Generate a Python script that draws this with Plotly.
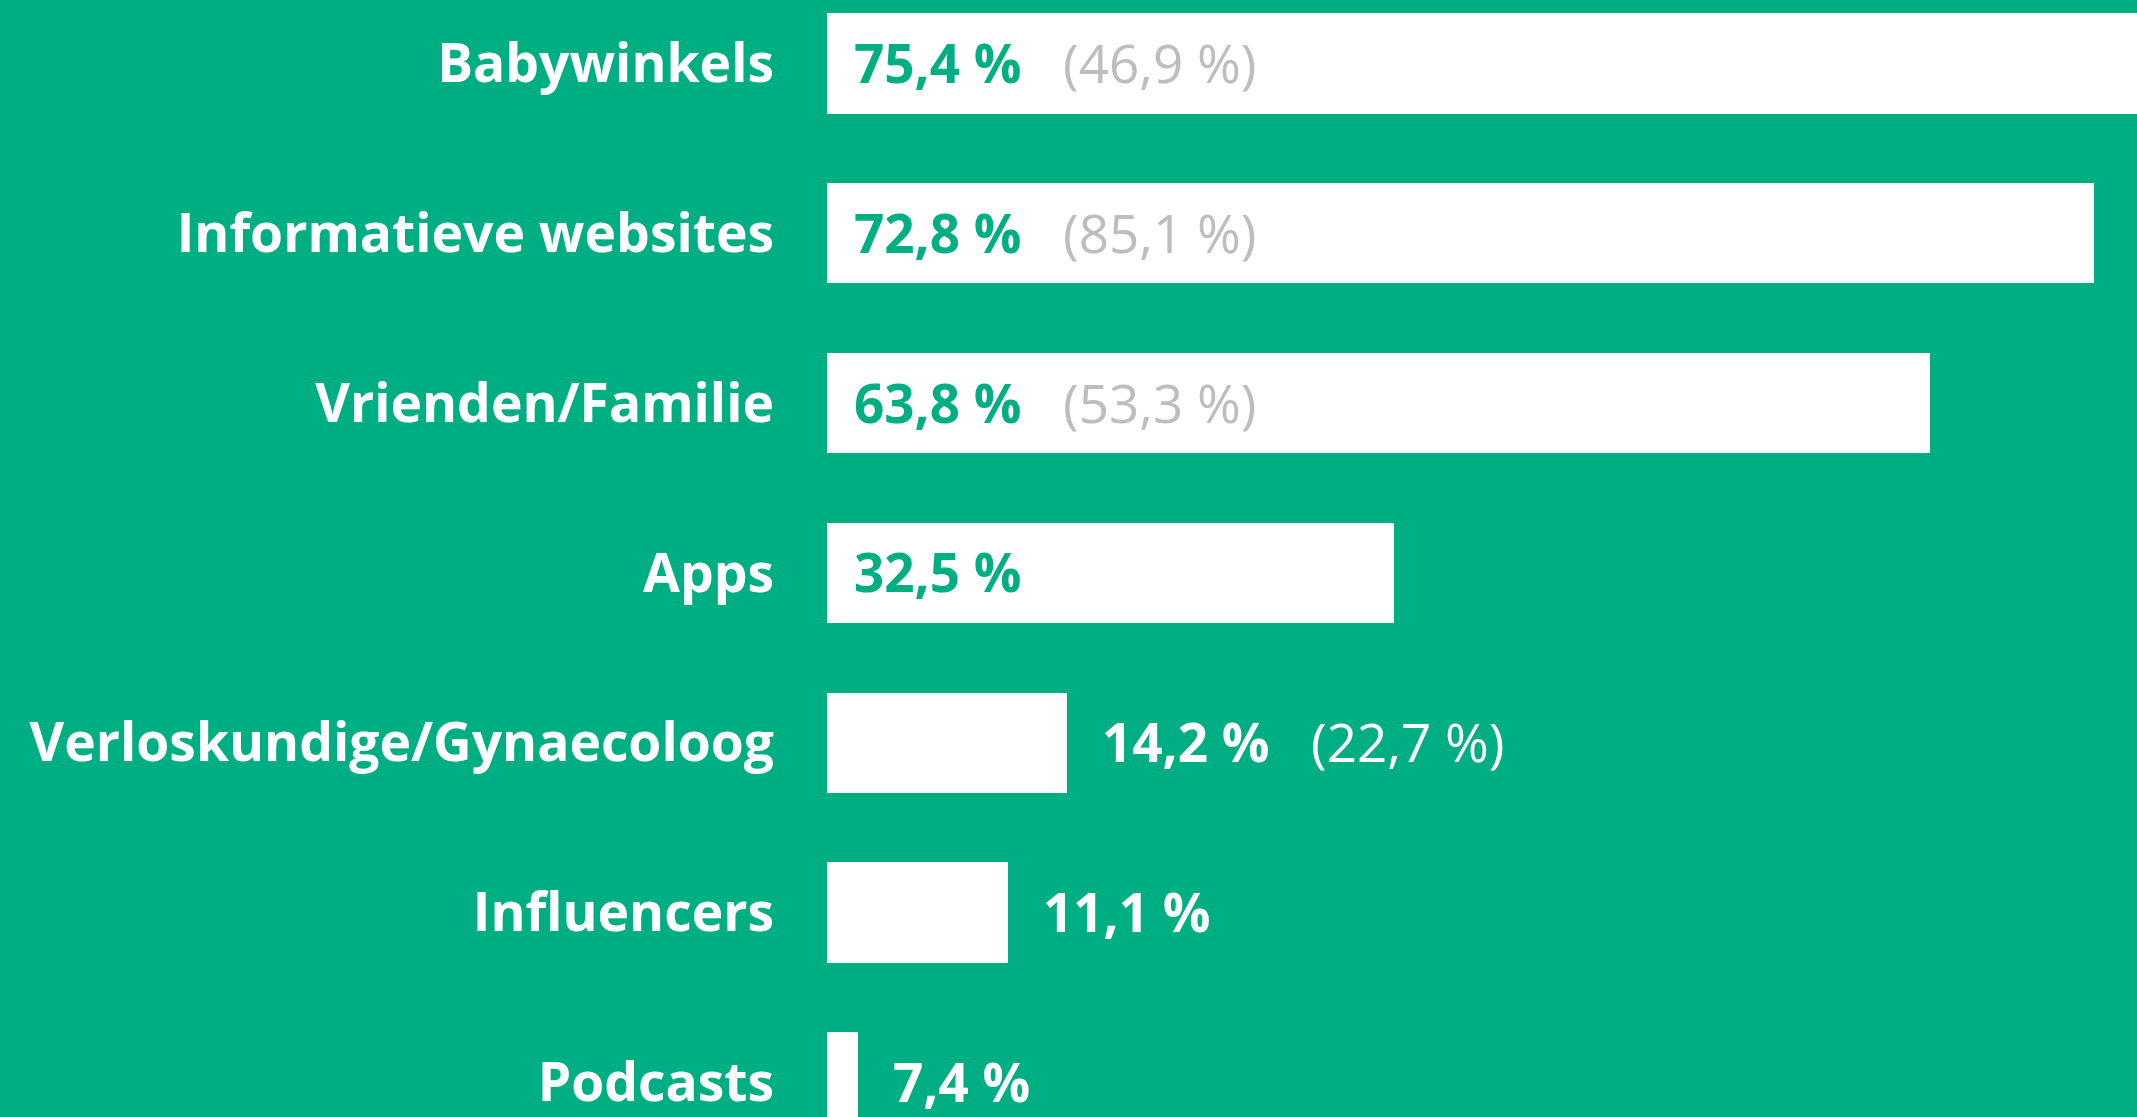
import plotly.graph_objects as go

# ---- data ----
categories = ["Babywinkels", "Informatieve websites", "Vrienden/Familie", "Apps",
              "Verloskundige/Gynaecoloog", "Influencers", "Podcasts"]
share_labels = ["75,4 %", "72,8 %", "63,8 %", "32,5 %", "14,2 %", "11,1 %", "7,4 %"]
previous_labels = ["(46,9 %)", "(85,1 %)", "(53,3 %)", "", "(22,7 %)", "", ""]
# bar lengths as drawn in the picture (percent scale of the drawing)
bar_lengths = [75.4, 72.8, 63.4, 32.6, 13.8, 10.4, 1.8]

# ---- styling ----
BG = "#00AE84"
GRAY = "#BDBDBD"
FONT = "Open Sans"
FS = 53
W, H = 2137, 1117
LEFT = 827
PX_PER_UNIT = 17.4

fig = go.Figure()
fig.add_trace(go.Bar(
    x=bar_lengths, y=categories, orientation="h",
    marker=dict(color="white", line=dict(width=0)),
    width=0.59, hoverinfo="skip",
))

annotations = []
for cat, val, lab, prev in zip(categories, bar_lengths, share_labels, previous_labels):
    inside = val > 20
    if inside:
        x0, shift, col, pcol = 0, 25, BG, GRAY
    else:
        x0, shift, col, pcol = val, 33, "white", "white"
    annotations.append(dict(
        x=x0, y=cat, xref="x", yref="y", xanchor="left", yanchor="middle",
        xshift=shift, yshift=1, showarrow=False, text="<b>" + lab + "</b>",
        font=dict(family=FONT, size=FS, color=col),
    ))
    if prev:
        annotations.append(dict(
            x=x0, y=cat, xref="x", yref="y", xanchor="left", yanchor="middle",
            xshift=shift + 209, yshift=1, showarrow=False, text=prev,
            font=dict(family=FONT, size=FS, color=pcol),
        ))

fig.update_layout(
    width=W, height=H,
    margin=dict(l=LEFT, r=0, t=0, b=0, pad=0),
    paper_bgcolor=BG, plot_bgcolor=BG,
    showlegend=False,
    annotations=annotations,
    bargap=0,
)
fig.update_xaxes(range=[0, (W - LEFT) / PX_PER_UNIT], visible=False, fixedrange=True)
n_px = 169.8
top = -63.5 / n_px
fig.update_yaxes(
    type="category", categoryorder="array", categoryarray=categories,
    range=[top + H / n_px, top],
    showgrid=False, zeroline=False, showline=False, ticks="",
    ticklabelstandoff=52,
    tickfont=dict(family=FONT, size=53.4, color="white", weight="bold"),
    fixedrange=True,
)

fig.write_html(
    "out.html",
    config={"displayModeBar": False},
    post_script="document.body.style.margin='0';document.body.style.overflow='hidden';"
                "document.body.style.background='" + BG + "';",
)
